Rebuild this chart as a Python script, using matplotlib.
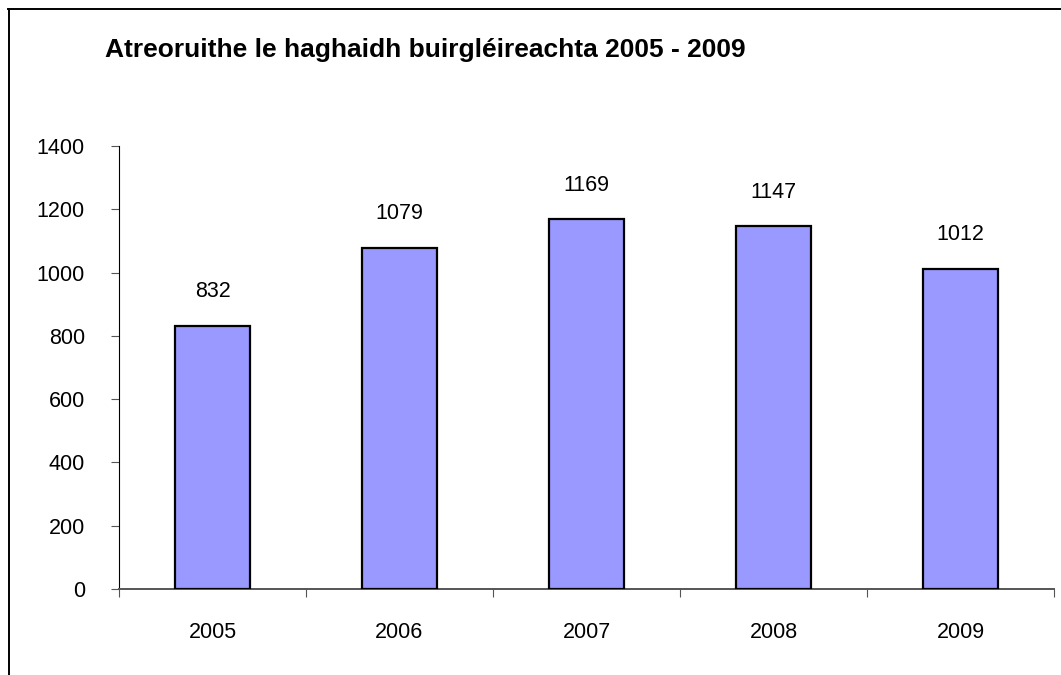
import matplotlib
matplotlib.use("Agg")
import matplotlib.pyplot as plt
from matplotlib.lines import Line2D

years = ["2005", "2006", "2007", "2008", "2009"]
counts = [832, 1079, 1169, 1147, 1012]
yticks = [0, 200, 400, 600, 800, 1000, 1200, 1400]

plt.rcParams["font.family"] = ["Liberation Sans", "DejaVu Sans"]

W, H = 1061, 675
fig = plt.figure(figsize=(W / 100, H / 100), dpi=100)
ax = fig.add_axes([119 / W, 1 - 589 / H, (1054 - 119) / W, (589 - 146) / H])

x = list(range(len(years)))
ax.bar(x, counts, width=0.4, color="#9999ff", edgecolor="black", linewidth=1.6, zorder=3)

for xi, v in zip(x, counts):
    ax.annotate(str(v), (xi, v), xytext=(0, 24.5), textcoords="offset points",
                ha="center", va="center", fontsize=15.5)

ax.set_xlim(-0.5, len(years) - 0.5)
ax.set_ylim(0, 1400)
ax.set_yticks(yticks)
ax.set_yticklabels([str(t) for t in yticks], fontsize=15.5)

# category separators as ticks, labels centered
ax.set_xticks([i - 0.5 for i in range(len(years) + 1)])
ax.set_xticklabels([])
ax.set_xticks(x, minor=True)
ax.set_xticklabels(years, minor=True, fontsize=15.5)
ax.tick_params(axis="x", which="minor", length=0, pad=24)
ax.tick_params(axis="x", which="major", length=6, color="#555555")
ax.tick_params(axis="y", length=6, color="#555555", pad=18.5)

ax.spines["top"].set_visible(False)
ax.spines["right"].set_visible(False)
ax.spines["left"].set_color("black")
ax.spines["bottom"].set_color("#555555")
ax.spines["bottom"].set_linewidth(1.4)

fig.text(105 / W, 1 - 50 / H, "Atreoruithe le haghaidh buirgléireachta 2005 - 2009",
         fontsize=19, fontweight="bold", ha="left", va="center")

# outer frame (left and top edges)
fig.add_artist(Line2D([8.5 / W, 8.5 / W], [0, 1 - 9 / H], color="black", linewidth=1.4,
                      transform=fig.transFigure))
fig.add_artist(Line2D([8 / W, 1], [1 - 9 / H, 1 - 9 / H], color="black", linewidth=1.4,
                      transform=fig.transFigure))

fig.savefig("out.png", dpi=100)
